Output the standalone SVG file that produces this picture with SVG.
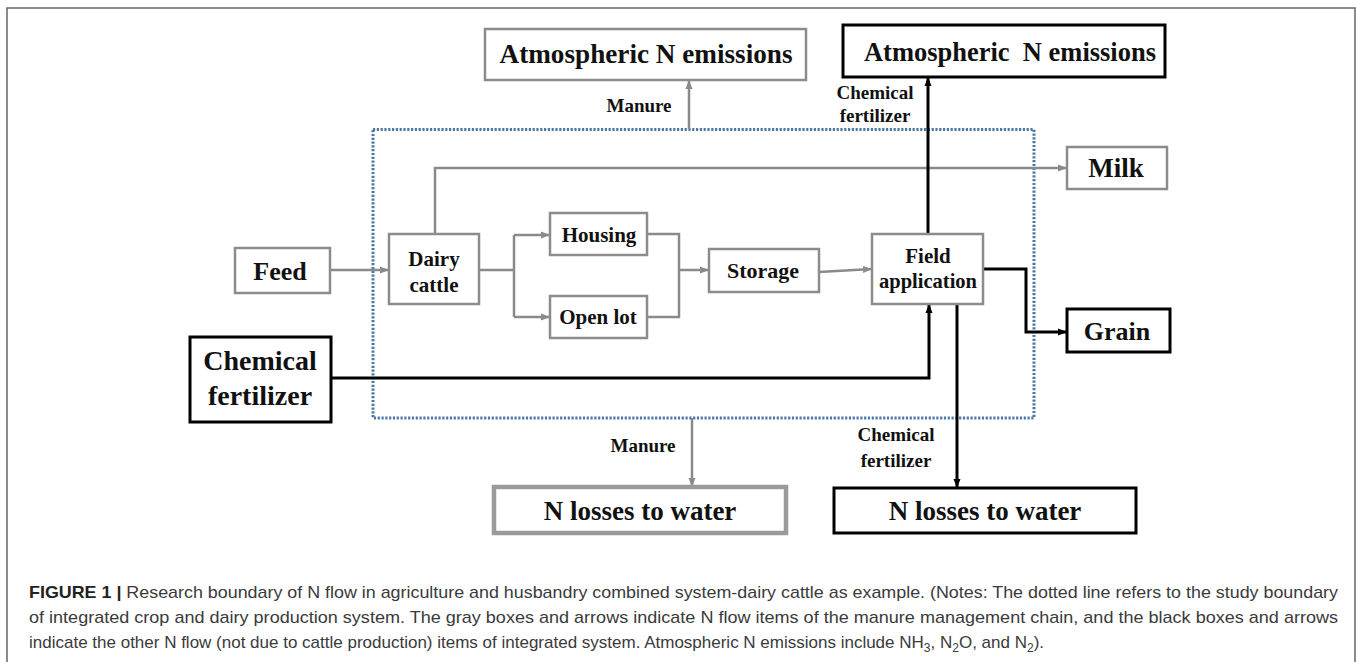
<svg xmlns="http://www.w3.org/2000/svg" width="1358" height="662" viewBox="0 0 1358 662">
<defs>
<style>
.bt{font-family:"Liberation Serif","Times New Roman",serif;font-weight:bold;fill:#111;text-anchor:middle}
.gb{fill:#fff;stroke:#8c8c8c;stroke-width:2.5}
.kb{fill:#fff;stroke:#000;stroke-width:3}
.gl{fill:none;stroke:#8a8a8a;stroke-width:2.5}
.kl{fill:none;stroke:#000;stroke-width:3}
.lab{font-family:"Liberation Serif","Times New Roman",serif;font-weight:bold;fill:#111;font-size:19px}
.cap{font-family:"Liberation Sans",Arial,sans-serif;font-size:17px;fill:#3a3a3a}
</style>
<marker id="ag" markerWidth="10" markerHeight="8" refX="9" refY="4" orient="auto" markerUnits="userSpaceOnUse"><path d="M0,0.5 L9,4 L0,7.5 z" fill="#8a8a8a"/></marker>
<marker id="ak" markerWidth="10" markerHeight="8" refX="9" refY="4" orient="auto" markerUnits="userSpaceOnUse"><path d="M0,0.5 L9,4 L0,7.5 z" fill="#000"/></marker>
</defs>
<rect width="1358" height="662" fill="#fff"/>
<path d="M7,662 V8 H1355 V662" fill="none" stroke="#666" stroke-width="1.5"/>
<rect id="boundary" x="373" y="129.5" width="661" height="288.5" fill="none" stroke="#4a79a6" stroke-width="3" stroke-dasharray="2.2 1.6"/>
<g id="connectors">
<path class="gl" d="M330,270 H389" marker-end="url(#ag)"/>
<path class="gl" d="M435,234 V168 H1067" marker-end="url(#ag)"/>
<path class="gl" d="M479,270 H514 M514,235 V317"/>
<path class="gl" d="M514,235 H550" marker-end="url(#ag)"/>
<path class="gl" d="M514,317 H550" marker-end="url(#ag)"/>
<path class="gl" d="M647,234 H679 V317 H647"/>
<path class="gl" d="M679,270 H709" marker-end="url(#ag)"/>
<path class="gl" d="M819,272 L872,269" marker-end="url(#ag)"/>
<path class="gl" d="M689,129 V80" marker-end="url(#ag)"/>
<path class="gl" d="M692,418 V487" marker-end="url(#ag)"/>
<path class="kl" d="M928,234 V77" marker-end="url(#ak)"/>
<path class="kl" d="M331,378 H929 V304" marker-end="url(#ak)"/>
<path class="kl" d="M957,304 V488" marker-end="url(#ak)"/>
<path class="kl" d="M983,269 H1026 V332 H1067" marker-end="url(#ak)"/>
<text class="lab" x="639" y="112" text-anchor="middle">Manure</text>
<text class="lab" x="875" y="99" text-anchor="middle">Chemical</text>
<text class="lab" x="875" y="122" text-anchor="middle">fertilizer</text>
<text class="lab" x="643" y="452" text-anchor="middle">Manure</text>
<text class="lab" x="896" y="441" text-anchor="middle">Chemical</text>
<text class="lab" x="896" y="467" text-anchor="middle">fertilizer</text>
</g>
<g id="atm-manure"><rect class="gb" x="485" y="29" width="321" height="51"/><text class="bt" x="646" y="63" font-size="28" textLength="293" lengthAdjust="spacingAndGlyphs">Atmospheric N emissions</text></g>
<g id="atm-chem"><rect class="kb" x="843" y="25" width="322" height="52" stroke-width="3.5"/><text class="bt" x="1010" y="61" font-size="28" textLength="292" lengthAdjust="spacingAndGlyphs" xml:space="preserve">Atmospheric  N emissions</text></g>
<g id="milk"><rect class="gb" x="1067" y="147" width="100" height="42"/><text class="bt" x="1116" y="177" font-size="27">Milk</text></g>
<g id="feed"><rect class="gb" x="235" y="248" width="95" height="45"/><text class="bt" x="280" y="280" font-size="26">Feed</text></g>
<g id="dairy"><rect class="gb" x="389" y="234" width="90" height="70"/><text class="bt" x="434" y="266" font-size="21">Dairy</text><text class="bt" x="434" y="292" font-size="21">cattle</text></g>
<g id="housing"><rect class="gb" x="550" y="213" width="97" height="42"/><text class="bt" x="599" y="242" font-size="21">Housing</text></g>
<g id="openlot"><rect class="gb" x="550" y="296" width="97" height="42"/><text class="bt" x="598" y="324" font-size="21">Open lot</text></g>
<g id="storage"><rect class="gb" x="709" y="249" width="110" height="43"/><text class="bt" x="763" y="278" font-size="22">Storage</text></g>
<g id="field"><rect class="gb" x="872" y="234" width="111" height="70"/><text class="bt" x="928" y="263" font-size="21">Field</text><text class="bt" x="928" y="288" font-size="21" textLength="98" lengthAdjust="spacingAndGlyphs">application</text></g>
<g id="grain"><rect class="kb" x="1067" y="309" width="103" height="43"/><text class="bt" x="1117" y="340" font-size="26">Grain</text></g>
<g id="chemfert"><rect class="kb" x="190" y="337" width="141" height="85"/><text class="bt" x="260" y="370" font-size="28">Chemical</text><text class="bt" x="260" y="405" font-size="28">fertilizer</text></g>
<g id="nloss-manure"><rect x="494" y="487" width="292" height="46" fill="#fff" stroke="#9a9a9a" stroke-width="4.5"/><text class="bt" x="640" y="520" font-size="27">N losses to water</text></g>
<g id="nloss-chem"><rect class="kb" x="834" y="488" width="302" height="45" stroke-width="3.5"/><text class="bt" x="985" y="520" font-size="27">N losses to water</text></g>
<g id="caption">
<text class="cap" x="29" y="598" textLength="1309" lengthAdjust="spacingAndGlyphs"><tspan font-weight="bold" fill="#222">FIGURE 1 | </tspan>Research boundary of N flow in agriculture and husbandry combined system-dairy cattle as example. (Notes: The dotted line refers to the study boundary</text>
<text class="cap" x="29" y="623" textLength="1309" lengthAdjust="spacingAndGlyphs">of integrated crop and dairy production system. The gray boxes and arrows indicate N flow items of the manure management chain, and the black boxes and arrows</text>
<text class="cap" x="29" y="648">indicate the other N flow (not due to cattle production) items of integrated system. Atmospheric N emissions include NH<tspan font-size="12" dy="4">3</tspan><tspan dy="-4">, N</tspan><tspan font-size="12" dy="4">2</tspan><tspan dy="-4">O, and N</tspan><tspan font-size="12" dy="4">2</tspan><tspan dy="-4">).</tspan></text>
</g>
</svg>
